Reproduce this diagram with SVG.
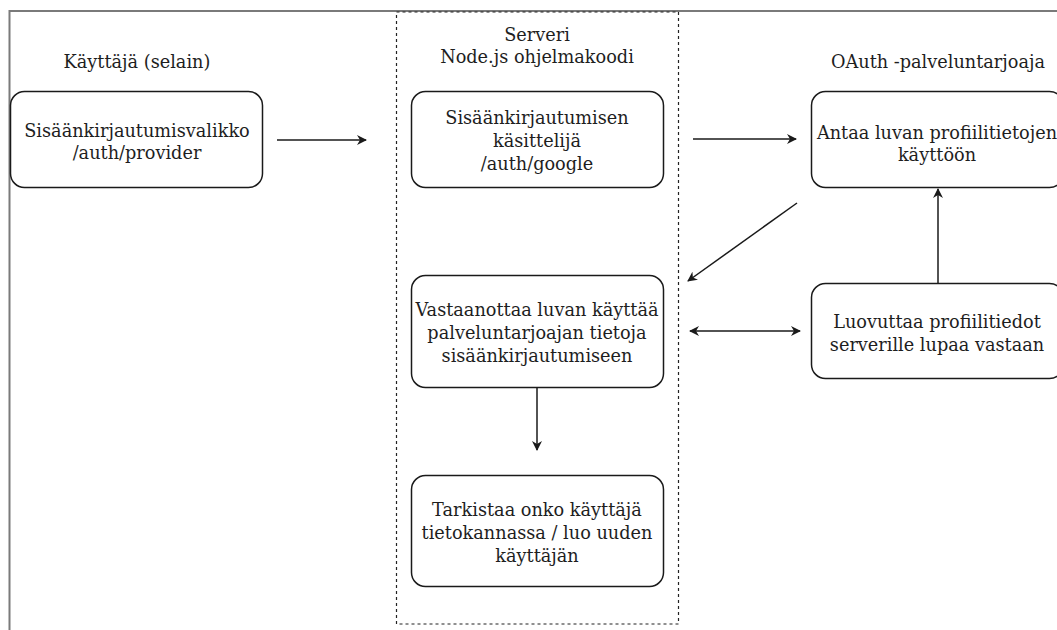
<svg xmlns="http://www.w3.org/2000/svg" width="1057" height="630" viewBox="0 0 1057 630">
<defs>
<style>
text{font-family:'DejaVu Serif',serif;font-size:17.7px;fill:#1e1e1e;text-anchor:middle}
.n{fill:#fff;stroke:#1a1a1a;stroke-width:1.5}
.c{stroke:#1a1a1a;stroke-width:1.5;fill:none}
</style>
<marker id="ah" viewBox="0 0 10 10" refX="9" refY="5" markerWidth="10" markerHeight="10" markerUnits="userSpaceOnUse" orient="auto-start-reverse">
<path d="M0,0 L10,5 L0,10 L3,5 Z" fill="#1a1a1a"/>
</marker>
</defs>
<rect width="1057" height="630" fill="#fff"/>
<g id="frame">
<path d="M1057,11 H9.5 V630" fill="none" stroke="#7a7a7a" stroke-width="2"/>
</g>
<g id="server-lane">
<rect x="396.5" y="12" width="282" height="612" fill="none" stroke="#222" stroke-width="1.2" stroke-dasharray="3,3"/>
<text x="537" y="41">Serveri</text>
<text x="537" y="63">Node.js ohjelmakoodi</text>
</g>
<g id="label-user"><text x="137" y="68">Käyttäjä (selain)</text></g>
<g id="label-oauth"><text x="938" y="68">OAuth -palveluntarjoaja</text></g>
<g id="n1">
<rect class="n" x="10.5" y="91.5" width="252" height="96" rx="14"/>
<text x="137" y="137">Sisäänkirjautumisvalikko</text>
<text x="137" y="159">/auth/provider</text>
</g>
<g id="n2">
<rect class="n" x="411.5" y="91.5" width="252" height="96" rx="14"/>
<text x="537" y="124">Sisäänkirjautumisen</text>
<text x="537" y="147">käsittelijä</text>
<text x="537" y="170">/auth/google</text>
</g>
<g id="n3">
<rect class="n" x="811.5" y="91.5" width="252" height="96" rx="14"/>
<text x="937" y="139">Antaa luvan profiilitietojen</text>
<text x="937" y="161">käyttöön</text>
</g>
<g id="n4">
<rect class="n" x="411.5" y="275.5" width="252" height="112" rx="14"/>
<text x="537" y="316">Vastaanottaa luvan käyttää</text>
<text x="537" y="339">palveluntarjoajan tietoja</text>
<text x="537" y="362">sisäänkirjautumiseen</text>
</g>
<g id="n5">
<rect class="n" x="811.5" y="283.5" width="252" height="95" rx="14"/>
<text x="937" y="328">Luovuttaa profiilitiedot</text>
<text x="937" y="351">serverille lupaa vastaan</text>
</g>
<g id="n6">
<rect class="n" x="411.5" y="475.5" width="252" height="111" rx="14"/>
<text x="537" y="516">Tarkistaa onko käyttäjä</text>
<text x="537" y="539">tietokannassa / luo uuden</text>
<text x="537" y="562">käyttäjän</text>
</g>
<g id="connectors">
<line class="c" x1="277" y1="140" x2="366" y2="140" marker-end="url(#ah)"/>
<line class="c" x1="693" y1="139" x2="796" y2="139" marker-end="url(#ah)"/>
<line class="c" x1="797" y1="203" x2="688" y2="281" marker-end="url(#ah)"/>
<line class="c" x1="938" y1="283" x2="938" y2="189" marker-end="url(#ah)"/>
<line class="c" x1="690" y1="331" x2="800" y2="331" marker-start="url(#ah)" marker-end="url(#ah)"/>
<line class="c" x1="537" y1="388" x2="537" y2="450" marker-end="url(#ah)"/>
</g>
</svg>
